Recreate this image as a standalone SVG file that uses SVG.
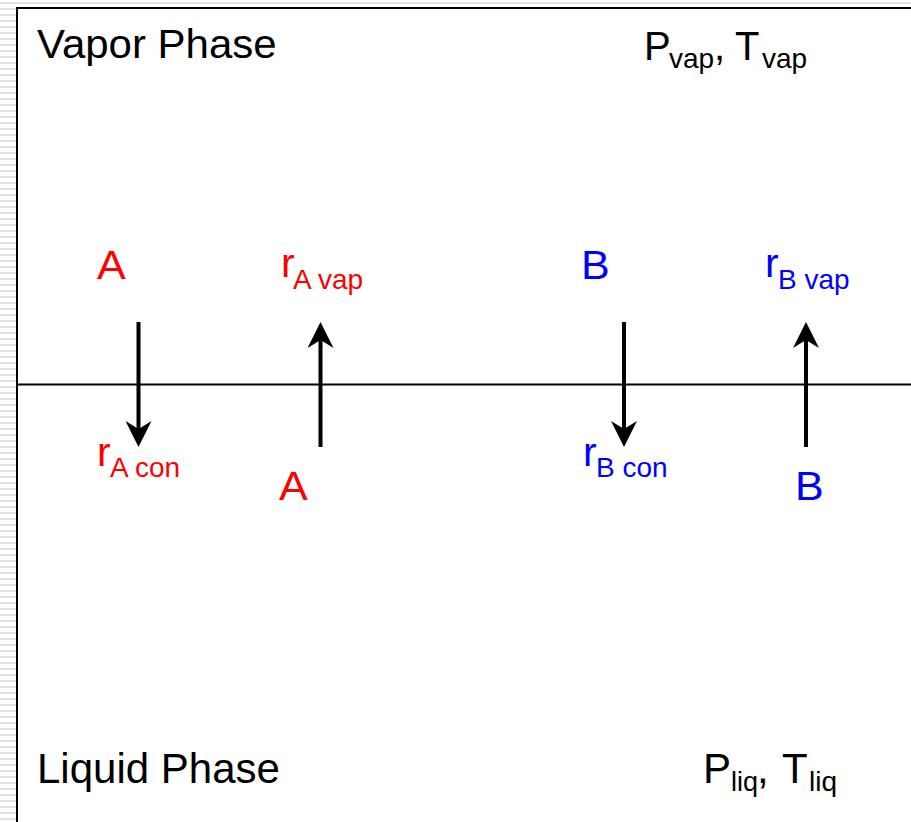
<svg xmlns="http://www.w3.org/2000/svg" width="911" height="822" viewBox="0 0 911 822">
  <style>
    text { font-family: "Liberation Sans", Arial, sans-serif; }
    .lbl { fill: #000; }
    .red { fill: #ff0000; }
    .blue { fill: #0000ff; }
    .big { font-size: 41px; }
    .sub { font-size: 28px; }
    .sm { font-size: 27px; }
    .flow { stroke: #000; stroke-width: 4; fill: none; marker-end: url(#head); }
  </style>
  <defs>
    <pattern id="stripes" patternUnits="userSpaceOnUse" width="6" height="6">
      <rect x="0" y="0" width="6" height="6" fill="#ffffff"/>
      <rect x="0" y="2" width="6" height="2" fill="#e2e2e2"/>
    </pattern>
    <marker id="head" markerUnits="userSpaceOnUse" markerWidth="26" markerHeight="26" viewBox="0 0 26 26" refX="16" refY="13" orient="auto">
      <path d="M0,0 L26,13 L0,26 L8,13 Z" fill="#000"/>
    </marker>
  </defs>

  <rect x="0" y="0" width="911" height="822" fill="url(#stripes)"/>
  <rect id="frame" x="17" y="8" width="1000" height="1000" fill="#ffffff" stroke="#000" stroke-width="2"/>
  <line id="interface" x1="17" y1="384.5" x2="911" y2="384.5" stroke="#000" stroke-width="2"/>

  <g id="vapor-label">
    <text class="lbl" font-size="40" transform="translate(37,58) scale(1.05,1)" x="0" y="0">Vapor Phase</text>
  </g>
  <g id="vapor-conditions">
    <text class="lbl" font-size="40" x="644" y="60">P<tspan class="sub" x="669" y="68">vap</tspan><tspan x="714" y="60">,</tspan><tspan x="735" y="60">T</tspan><tspan class="sub" x="762" y="68">vap</tspan></text>
  </g>
  <g id="liquid-label">
    <text class="lbl" font-size="42" x="37" y="783">Liquid Phase</text>
  </g>
  <g id="liquid-conditions">
    <text class="lbl" font-size="42" x="703" y="783">P<tspan class="sm" x="731" y="791">liq</tspan><tspan x="757" y="783">,</tspan><tspan x="782" y="783">T</tspan><tspan class="sub" x="809" y="791">liq</tspan></text>
  </g>

  <g id="A-vapor"><text class="red big" transform="translate(97,279) scale(1.05,1)">A</text></g>
  <g id="rA-vap"><text class="red big" x="281" y="277">r<tspan class="sub" x="293" y="289">A vap</tspan></text></g>
  <g id="rA-con"><text class="red big" x="97" y="466">r<tspan class="sub" x="110" y="477">A con</tspan></text></g>
  <g id="A-liquid"><text class="red big" transform="translate(279,500) scale(1.05,1)">A</text></g>

  <g id="B-vapor"><text class="blue big" transform="translate(581,279) scale(1.05,1)">B</text></g>
  <g id="rB-vap"><text class="blue big" x="765" y="277">r<tspan class="sub" x="778" y="289">B vap</tspan></text></g>
  <g id="rB-con"><text class="blue big" x="583" y="466">r<tspan class="sub" x="596" y="477">B con</tspan></text></g>
  <g id="B-liquid"><text class="blue big" transform="translate(795,500) scale(1.05,1)">B</text></g>

  <g id="connectors">
    <line class="flow" x1="138.5" y1="322" x2="138.5" y2="437"/>
    <line class="flow" x1="320.5" y1="447" x2="320.5" y2="332"/>
    <line class="flow" x1="624" y1="322" x2="624" y2="437"/>
    <line class="flow" x1="806" y1="447" x2="806" y2="332"/>
  </g>
</svg>
